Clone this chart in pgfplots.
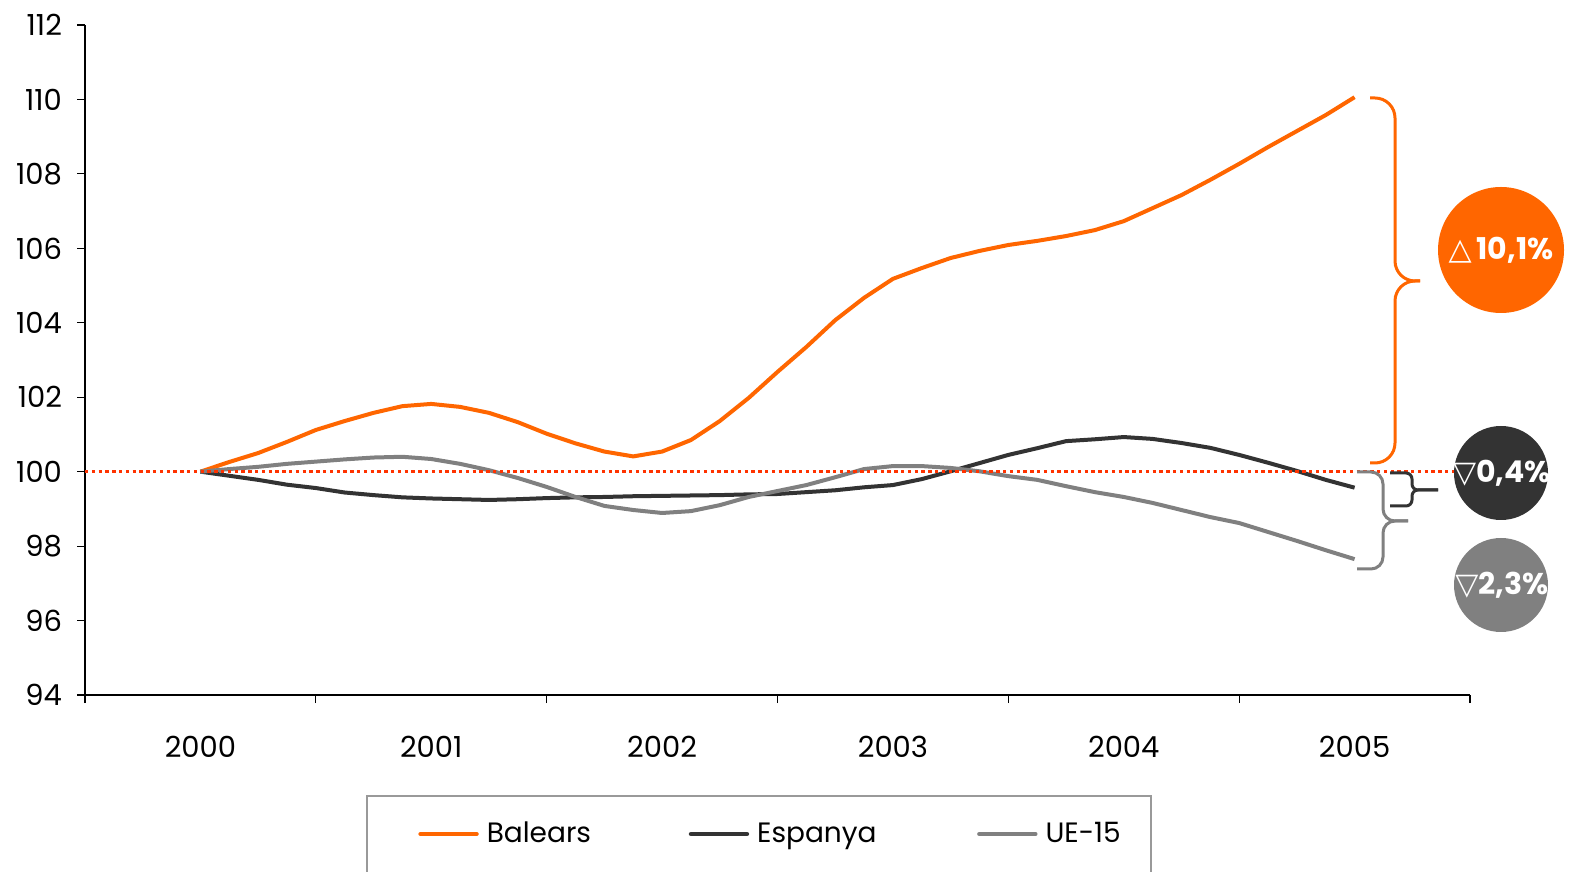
\documentclass[border=0pt]{standalone}
\usepackage{fontspec}
\setmainfont{Poppins}
\newfontfamily\sym{DejaVu Sans}
\usepackage{pgfplots}
\pgfplotsset{compat=1.18}
\usepackage{pgfplotstable}
\definecolor{cOrange}{HTML}{FF6600}
\definecolor{cDark}{HTML}{333333}
\definecolor{cGrey}{HTML}{808080}
\definecolor{cRed}{HTML}{FF3300}

\pgfplotstableread{
x bal esp ue
2000.000 100.00 100.00 100.00
2000.125 100.26 99.89 100.07
2000.250 100.50 99.78 100.13
2000.375 100.80 99.65 100.21
2000.500 101.12 99.56 100.27
2000.625 101.36 99.44 100.33
2000.750 101.58 99.37 100.38
2000.875 101.76 99.31 100.40
2001.000 101.82 99.28 100.34
2001.125 101.74 99.26 100.21
2001.250 101.58 99.24 100.04
2001.375 101.33 99.26 99.83
2001.500 101.02 99.29 99.59
2001.625 100.76 99.31 99.32
2001.750 100.54 99.32 99.08
2001.875 100.41 99.34 98.97
2002.000 100.54 99.35 98.89
2002.125 100.85 99.36 98.94
2002.250 101.36 99.37 99.10
2002.375 101.98 99.39 99.32
2002.500 102.68 99.40 99.48
2002.625 103.35 99.45 99.64
2002.750 104.07 99.50 99.85
2002.875 104.67 99.58 100.07
2003.000 105.18 99.64 100.15
2003.125 105.47 99.80 100.15
2003.250 105.74 100.01 100.10
2003.375 105.93 100.23 100.01
2003.500 106.09 100.45 99.88
2003.625 106.20 100.63 99.78
2003.750 106.33 100.82 99.61
2003.875 106.49 100.87 99.45
2004.000 106.73 100.93 99.32
2004.125 107.08 100.88 99.16
2004.250 107.43 100.77 98.97
2004.375 107.84 100.64 98.78
2004.500 108.27 100.45 98.62
2004.625 108.72 100.24 98.38
2004.750 109.15 100.02 98.14
2004.875 109.58 99.78 97.89
2005.000 110.06 99.57 97.65
}\data

\begin{document}
\begin{tikzpicture}
\path[use as bounding box] (-42.5pt,-88.5pt) rectangle (744.5pt,347.5pt);
\begin{axis}[
  scale only axis, width=692.5pt, height=335pt,
  at={(0pt,0pt)}, anchor=south west,
  xmin=1999.5, xmax=2005.5, ymin=94, ymax=112,
  axis x line=bottom, axis y line=left,
  axis line style={-, line width=0.6pt, black},
  tick style={line width=0.6pt, black},
  tick align=outside, major tick length=4pt,
  ytick={94,96,...,112},
  yticklabel style={xshift=-4pt},
  xtick={1999.5,2000.5,...,2005.5},
  xticklabel=\empty,
  extra x ticks={2000,2001,2002,2003,2004,2005},
  extra x tick labels={2000,2001,2002,2003,2004,2005},
  extra x tick style={major tick length=0pt, xticklabel style={yshift=-17pt}},
  /pgf/number format/assume math mode=true,
  ticklabel style={font=\fontsize{14.5}{16}\selectfont},
  clip=false,
  legend style={draw=none, fill=none, at={(0.2404,-0.2075)}, anchor=west,
    legend columns=3, inner sep=0pt, font=\fontsize{14}{16}\selectfont,
    nodes={inner sep=0pt},
    /tikz/every odd column/.append style={column sep=4pt}},
  legend image code/.code={\draw[#1, line width=2.2pt, line cap=round] (0pt,0pt) -- (28pt,0pt);},
]
\addplot[cOrange, line width=2pt, line join=round, no marks] table[x=x, y=bal] {\data};
\addlegendentry{\makebox[101pt][l]{Balears}}
\addplot[cDark, line width=2pt, line join=round, no marks] table[x=x, y=esp] {\data};
\addlegendentry{\makebox[110pt][l]{Espanya}}
\addplot[cGrey, line width=2pt, line join=round, no marks] table[x=x, y=ue] {\data};
\addlegendentry{UE-15}
\addplot[cRed, line width=1.7pt, dash pattern=on 1.7pt off 1.7pt, forget plot] coordinates {(1999.5,100) (2005.5,100)};
\end{axis}
% legend frame
\draw[gray!80, line width=0.8pt] (141pt,-120pt) -- (141pt,-50.5pt) -- (533pt,-50.5pt) -- (533pt,-120pt);
% braces
\draw[cOrange, line width=1.5pt, rounded corners=10pt] (642.5pt,298.5pt) -- (655pt,298.5pt) -- (655pt,207pt) -- (667.5pt,207pt);
\draw[cOrange, line width=1.5pt, rounded corners=10pt] (642.5pt,116pt) -- (655pt,116pt) -- (655pt,207pt) -- (667.5pt,207pt);
\draw[cDark, line width=1.5pt, rounded corners=3pt] (652.5pt,111pt) -- (663.5pt,111pt) -- (663.5pt,102.5pt) -- (676.5pt,102.5pt);
\draw[cDark, line width=1.5pt, rounded corners=3pt] (652.5pt,94.5pt) -- (663.5pt,94.5pt) -- (663.5pt,102.5pt) -- (676.5pt,102.5pt);
\draw[cGrey, line width=1.5pt, rounded corners=6pt] (636pt,111.5pt) -- (649pt,111.5pt) -- (649pt,87pt) -- (661.5pt,87pt);
\draw[cGrey, line width=1.5pt, rounded corners=6pt] (636pt,63pt) -- (649pt,63pt) -- (649pt,87pt) -- (661.5pt,87pt);
% circles
\fill[cOrange] (708pt,222.5pt) circle (31.5pt);
\fill[cDark] (708pt,111pt) circle (23.5pt);
\fill[cGrey] (708pt,55pt) circle (23.5pt);
\node[text=white, font=\bfseries\fontsize{15}{18}\selectfont, inner sep=0pt] at (708pt,222.5pt) {{\sym\bfseries △}\,10,1\%};
\node[text=white, font=\bfseries\fontsize{15}{18}\selectfont, inner sep=0pt] at (708.5pt,111pt) {{\sym\bfseries ▽}0,4\%};
\node[text=white, font=\bfseries\fontsize{15}{18}\selectfont, inner sep=0pt] at (708.5pt,55pt) {{\sym\bfseries ▽}2,3\%};
\end{tikzpicture}
\end{document}
